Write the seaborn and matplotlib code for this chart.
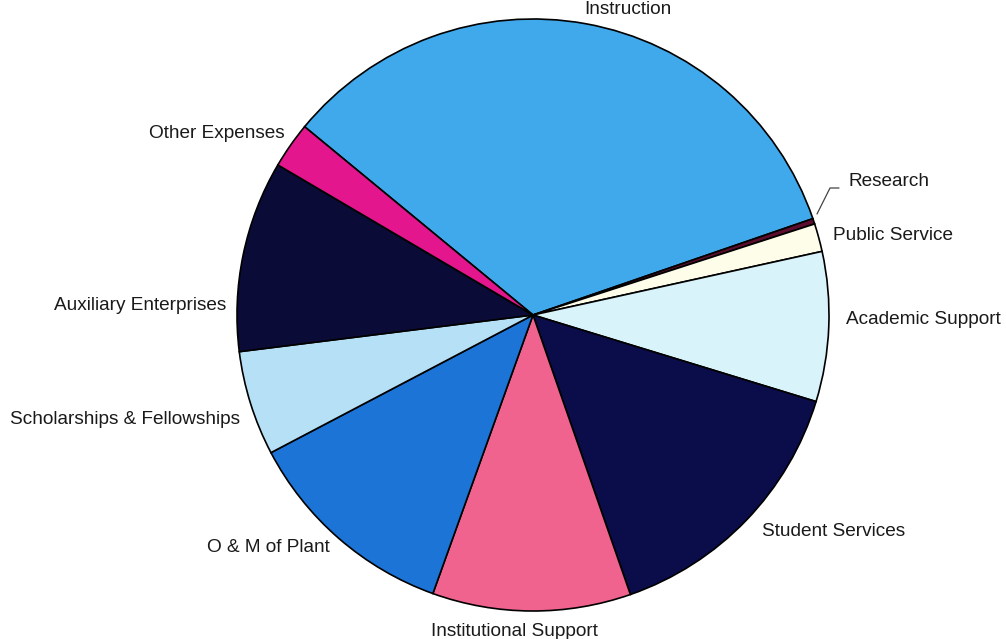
import numpy as np
import matplotlib
matplotlib.use("Agg")
import matplotlib.pyplot as plt
import seaborn as sns

# Expense categories, in clockwise order starting from Instruction
categories = [
    "Instruction", "Research", "Public Service", "Academic Support",
    "Student Services", "Institutional Support", "O & M of Plant",
    "Scholarships & Fellowships", "Auxiliary Enterprises", "Other Expenses",
]
shares = [33.75, 0.30, 1.53, 8.17, 14.94, 10.83, 11.81, 5.72, 10.44, 2.51]
colors = [
    "#3fa9ec", "#5c0c2c", "#fdfdea", "#d9f3fb", "#0b0c4a",
    "#f0638f", "#1b74d6", "#b6e0f6", "#0b0b38", "#e4168e",
]

sns.set_theme(style="white")
plt.rcParams["font.family"] = ["Liberation Sans", "DejaVu Sans"]

W, H = 1006, 639
fig = plt.figure(figsize=(W / 100, H / 100), dpi=100)
cx, cy, r = 533, 315, 296
ax = fig.add_axes([(cx - r) / W, (H - cy - r) / H, 2 * r / W, 2 * r / H])

wedges, _ = ax.pie(
    shares, colors=colors, startangle=140.5, counterclock=False,
    radius=1.0, wedgeprops=dict(edgecolor="black", linewidth=1.2),
)
ax.set_xlim(-1, 1)
ax.set_ylim(-1, 1)
ax.set_aspect("equal")
ax.axis("off")

# Label anchor points in pixel space (x, y from top), with horizontal alignment
label_layout = {
    "Instruction": (628, 10, "center"),
    "Research": (848, 182, "left"),
    "Public Service": (833, 235, "left"),
    "Academic Support": (846, 320, "left"),
    "Student Services": (762, 532, "left"),
    "Institutional Support": (514, 631, "center"),
    "O & M of Plant": (330, 548, "right"),
    "Scholarships & Fellowships": (240, 420, "right"),
    "Auxiliary Enterprises": (226, 306, "right"),
    "Other Expenses": (285, 133, "right"),
}
for name in categories:
    x, y, ha = label_layout[name]
    fig.text(x / W, 1 - y / H, name, ha=ha, va="center", fontsize=13.7,
             color="#1a1a1a")

# Leader line for the thin Research wedge
fig.add_artist(plt.Line2D([817 / W, 830 / W, 839 / W],
                          [1 - 214 / H, 1 - 188 / H, 1 - 188 / H],
                          color="#444444", linewidth=0.9))

fig.savefig("out.png", dpi=100)
